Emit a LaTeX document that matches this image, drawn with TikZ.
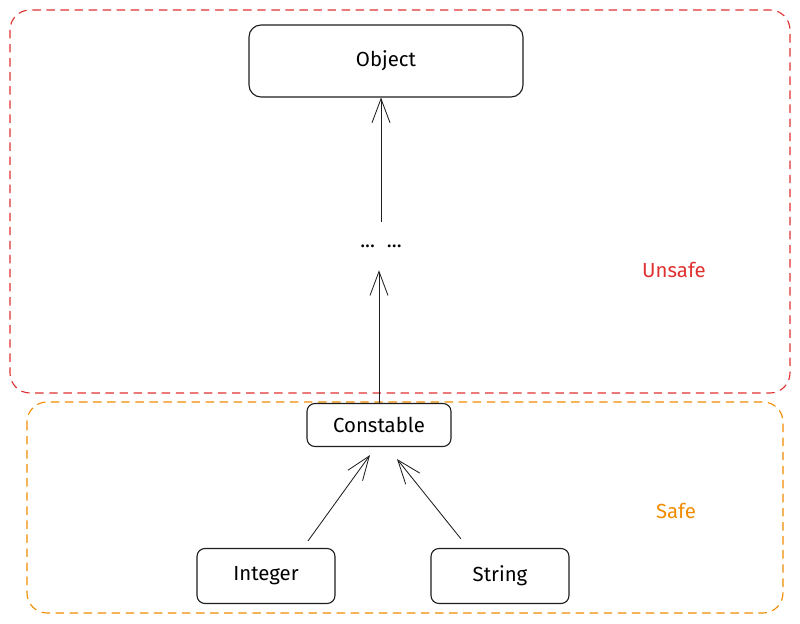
\documentclass[tikz,border=0pt]{standalone}
\usepackage{fontspec}
\setmainfont{Fira Sans}
\usepackage{tikz}
\usetikzlibrary{arrows.meta,positioning}
\definecolor{unsafered}{RGB}{224,49,49}
\definecolor{safeorange}{RGB}{240,140,0}
\definecolor{inkgray}{RGB}{30,30,30}

\begin{document}
\begin{tikzpicture}[
  class/.style={rectangle,draw=inkgray,thick,fill=white,
    rounded corners=0.3cm,align=center,font=\fontsize{14.5}{17}\selectfont},
  zone/.style={thick,rounded corners=0.5cm,dash pattern=on 6pt off 4pt},
  arrow/.style={-{Straight Barb[length=6mm,width=4.5mm]},semithick,color=inkgray},
]
  \useasboundingbox (0,0) rectangle (20,-15.6);
  % zones
  \draw[zone,draw=unsafered]   (0.25,-0.25) rectangle (19.75,-9.825);
  \draw[zone,draw=safeorange] (0.675,-10.05) rectangle (19.575,-15.325);
  \node[text=unsafered,font=\fontsize{14.5}{17}\selectfont]  (unsafe) at (16.85,-6.75)  {Unsafe};
  \node[text=safeorange,font=\fontsize{14.5}{17}\selectfont] (safe)   at (16.9,-12.775) {Safe};
  % classes
  \node[class,minimum width=6.85cm,minimum height=1.8cm] (obj) at (9.65,-1.525) {Object};
  \node[minimum height=1.2cm,font=\fontsize{14.5}{17}\selectfont] (dots) at (9.525,-6.15) {...\hspace{0.3cm}...};
  \node[class,rounded corners=0.2cm,minimum width=3.6cm,minimum height=1.075cm] (con) at (9.475,-10.625) {Constable};
  \node[class,rounded corners=0.2cm,minimum width=3.45cm,minimum height=1.375cm] (int) at (6.65,-14.4) {Integer};
  \node[class,rounded corners=0.2cm,minimum width=3.45cm,minimum height=1.375cm] (str) at (12.5,-14.4) {String};
  % inheritance
  \draw[arrow] (dots.north) -- (dots.north |- obj.south);
  \draw[arrow] (con.north) -- (con.north |- dots.south);
  \draw[arrow] ([xshift=1.05cm,yshift=0.175cm]int.north) -- ([xshift=-0.225cm,yshift=-0.2cm]con.south);
  \draw[arrow] ([xshift=-0.975cm,yshift=0.225cm]str.north) -- ([xshift=0.45cm,yshift=-0.3cm]con.south);
\end{tikzpicture}
\end{document}
